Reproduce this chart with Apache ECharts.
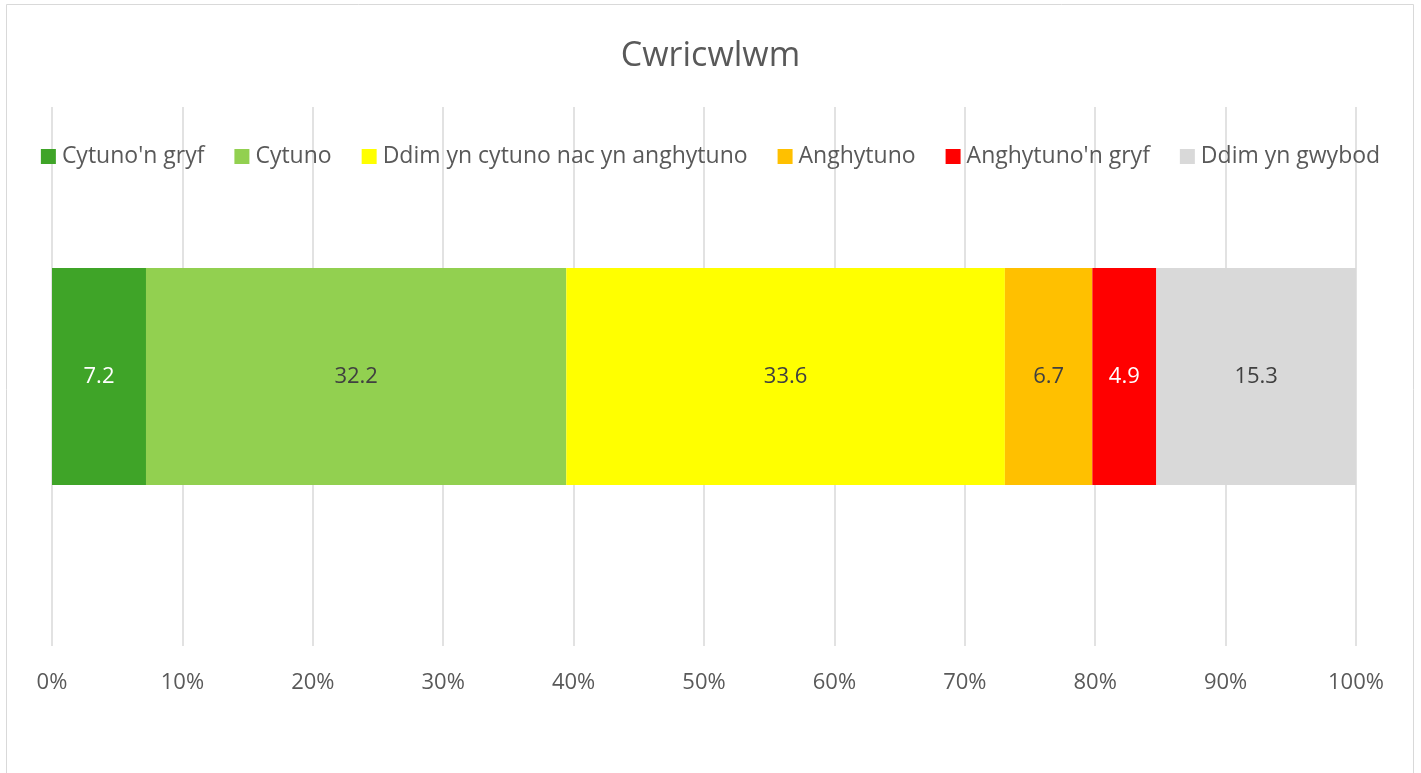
<!DOCTYPE html>
<html><head><meta charset="utf-8">
<script src="https://cdn.jsdelivr.net/npm/echarts@6/dist/echarts.min.js"></script>
<style>html,body{margin:0;padding:0;background:#fff;}#c{width:1421px;height:773px;}</style>
</head><body><div id="c"></div>
<script>
const title = 'Cwricwlwm';
const categories = ['Cwricwlwm'];
const seriesNames = ["Cytuno'n gryf", 'Cytuno', 'Ddim yn cytuno nac yn anghytuno', 'Anghytuno', "Anghytuno'n gryf", 'Ddim yn gwybod'];
const seriesValues = [7.2, 32.2, 33.6, 6.7, 4.9, 15.3];
const seriesColors = ['#3fa428', '#92d050', '#ffff00', '#ffc000', '#ff0000', '#d9d9d9'];
const labelColors = ['#ffffff', '#404040', '#404040', '#404040', '#ffffff', '#404040'];
const tickValues = [0, 10, 20, 30, 40, 50, 60, 70, 80, 90, 100];

const FONT = "'Open Sans', 'Noto Sans', sans-serif";
const total = seriesValues.reduce((a, b) => a + b, 0);

const chart = echarts.init(document.getElementById('c'), null, {renderer: 'canvas'});
chart.setOption({
  animation: false,
  textStyle: {fontFamily: FONT},
  title: {
    text: title, left: 'center', top: 34,
    textStyle: {fontFamily: FONT, fontSize: 34, fontWeight: 'normal', color: '#595959'}
  },
  legend: {
    top: 140, left: 'center',
    itemWidth: 15, itemHeight: 15, itemGap: 30,
    icon: 'rect',
    textStyle: {fontFamily: FONT, fontSize: 23, color: '#595959', padding: [0, 0, 0, 1]},
    data: seriesNames
  },
  graphic: [{
    type: 'rect', silent: true, z: -1,
    shape: {x: 6.5, y: 4.5, width: 1407, height: 820},
    style: {fill: 'none', stroke: '#d9d9d9', lineWidth: 1}
  }],
  grid: {left: 52, right: 65, top: 107, bottom: 127, containLabel: false},
  xAxis: {
    type: 'value', min: 0, max: 100, interval: 10,
    axisLine: {show: false}, axisTick: {show: false},
    axisLabel: {formatter: '{value}%', fontFamily: FONT, fontSize: 22, color: '#595959', margin: 26},
    splitLine: {show: true, lineStyle: {color: '#d9d9d9', width: 1.5}}
  },
  yAxis: {
    type: 'category', data: categories,
    axisLine: {show: false}, axisTick: {show: false}, axisLabel: {show: false}
  },
  series: seriesNames.map((name, i) => ({
    name, type: 'bar', stack: 'total', barWidth: 217,
    itemStyle: {color: seriesColors[i]},
    label: {
      show: true, position: 'inside',
      formatter: () => seriesValues[i].toFixed(1),
      fontFamily: FONT, fontSize: 22, color: labelColors[i]
    },
    data: [seriesValues[i] / total * 100]
  }))
});
</script></body></html>
